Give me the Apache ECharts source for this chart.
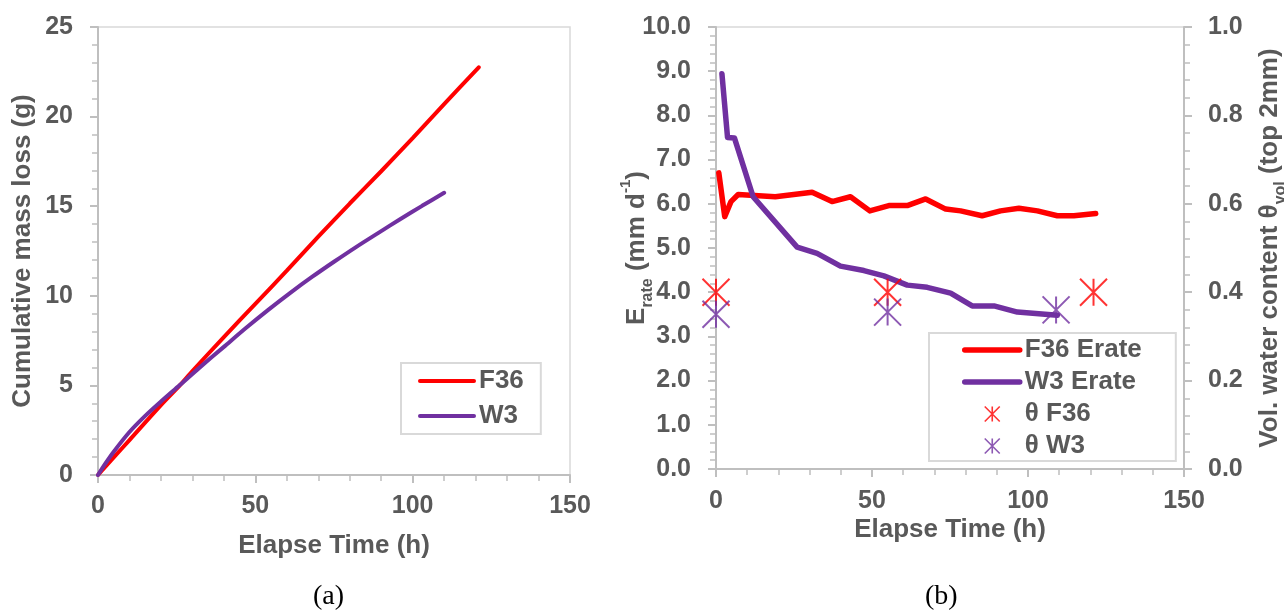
<!DOCTYPE html>
<html>
<head>
<meta charset="utf-8">
<script src="https://cdn.jsdelivr.net/npm/echarts@6/dist/echarts.min.js"></script>
<style>
  html, body { margin: 0; padding: 0; background: #ffffff; }
  #chart { width: 1284px; height: 612px; }
</style>
</head>
<body>
<div id="chart"></div>
<script>
// (a) cumulative mass loss, grams, against elapsed hours
const massTimeF36 = [0, 2, 5, 10, 20, 26, 30, 40, 50, 60, 70, 80, 90, 100, 110, 121];
const massF36 = [0, 0.4, 0.98, 1.95, 3.9, 5.0, 5.8, 7.7, 9.55, 11.4, 13.3, 15.15, 16.95, 18.8, 20.7, 22.75];
const massTimeW3 = [0, 2, 5, 10, 15, 20, 26, 32, 40, 47, 54, 61, 68, 75, 82, 89, 96, 103, 110];
const massW3 = [0, 0.55, 1.3, 2.4, 3.3, 4.1, 5.02, 5.95, 7.15, 8.2, 9.2, 10.15, 11.05, 11.9, 12.72, 13.5, 14.27, 15.02, 15.75];

// (b) evaporation rate, mm per day
const erateTimeF36 = [0.9, 2.8, 4.8, 7.1, 19, 30.8, 37.2, 43.1, 49.3, 55.4, 61.3, 67.2, 73.6, 78.4, 85.3, 91.2, 97.1, 103, 109.4, 114.7, 121.7];
const erateF36 = [6.70, 5.71, 6.05, 6.21, 6.16, 6.26, 6.05, 6.16, 5.84, 5.96, 5.96, 6.11, 5.88, 5.84, 5.73, 5.84, 5.90, 5.84, 5.73, 5.73, 5.78];
const erateTimeW3 = [1.9, 3.7, 5.9, 11.9, 26.0, 32.4, 39.9, 47.4, 53.8, 61.3, 67.7, 75.2, 82.1, 89.1, 96.6, 109.4];
const erateW3 = [8.94, 7.50, 7.49, 6.16, 5.02, 4.88, 4.59, 4.49, 4.37, 4.16, 4.11, 3.98, 3.69, 3.69, 3.55, 3.48];

// (b) volumetric water content of the top 2 mm
const thetaTimeF36 = [0, 55, 121];
const thetaF36 = [0.40, 0.40, 0.40];
const thetaTimeW3 = [0, 55, 109];
const thetaW3 = [0.35, 0.355, 0.36];

const FONT = "'Liberation Sans', Arial, Helvetica, sans-serif";
const GREY = '#595959';
const AXIS = '#bfbfbf';
const BORDER = '#d9d9d9';
const RED = '#ff0000';
const PURPLE = '#7030a0';
// asterisk marker: an X crossed by a vertical stroke (stroked, not filled)
const STAR = 'path://M0,0L20,20M20,0L0,20M10,0L10,20';

const pairs = (xs, ys) => xs.map((x, i) => [x, ys[i]]);

const textBase = { color: GREY, fontFamily: FONT, fontWeight: 'bold' };

function valueAxis(extra, decimals, labelMargin) {
  return Object.assign({
    type: 'value',
    nameLocation: 'middle',
    nameMoveOverlap: false,
    axisLine: { show: true, onZero: false, lineStyle: { color: AXIS, width: 2 } },
    axisTick: { show: true, length: 8, lineStyle: { color: AXIS, width: 2 } },
    minorTick: { show: true, splitNumber: 5, length: 6, lineStyle: { color: AXIS, width: 1.5 } },
    splitLine: { show: false },
    axisLabel: Object.assign({}, textBase, {
      fontSize: 25, margin: labelMargin, showMinLabel: true, showMaxLabel: true,
      formatter: v => v.toFixed(decimals)
    }),
    nameTextStyle: Object.assign({}, textBase, { fontSize: 26 })
  }, extra);
}

const richBase = {
  m: Object.assign({}, textBase, { fontSize: 26, lineHeight: 38 }),
  s: Object.assign({}, textBase, { fontSize: 16, lineHeight: 17, verticalAlign: 'bottom' }),
  p: Object.assign({}, textBase, { fontSize: 15, lineHeight: 28, verticalAlign: 'top' })
};

// legend entries for the line series: line sample only, no marker dot
const lineEntry = (name, width) => ({ name: name, itemStyle: { opacity: 0 }, lineStyle: { width: width } });

const option = {
  animation: false,
  backgroundColor: '#ffffff',
  grid: [
    { left: 98, top: 27, width: 472, height: 448, show: true, borderColor: BORDER, borderWidth: 1.5,
      backgroundColor: 'transparent', containLabel: false, outerBoundsMode: 'none' },
    { left: 716, top: 27, width: 468, height: 442, show: true, borderColor: BORDER, borderWidth: 1.5,
      backgroundColor: 'transparent', containLabel: false, outerBoundsMode: 'none' }
  ],
  xAxis: [
    valueAxis({ gridIndex: 0, min: 0, max: 150, interval: 50, name: 'Elapse Time (h)', nameGap: 58 }, 0, 19),
    valueAxis({ gridIndex: 1, min: 0, max: 150, interval: 50, name: 'Elapse Time (h)', nameGap: 48 }, 0, 20)
  ],
  yAxis: [
    valueAxis({ gridIndex: 0, min: 0, max: 25, interval: 5, name: 'Cumulative mass loss (g)', nameGap: 62 }, 0, 25),
    valueAxis({
      gridIndex: 1, min: 0, max: 10, interval: 1, nameGap: 60,
      name: '{m|E}{s|rate}{m| (mm d}{p|-1}{m|)}',
      nameTextStyle: { rich: richBase }
    }, 1, 25),
    valueAxis({
      gridIndex: 1, position: 'right', min: 0, max: 1, interval: 0.2, nameGap: 67, alignTicks: false,
      name: '{m|Vol. water content θ}{s|vol}{m| (top 2mm)}',
      nameTextStyle: { rich: richBase }
    }, 1, 24)
  ],
  legend: [
    {
      orient: 'vertical', left: 401, top: 363, selectedMode: false,
      itemWidth: 54, itemHeight: 14, itemGap: 9, padding: [5, 17, 5, 17],
      borderColor: BORDER, borderWidth: 2, backgroundColor: '#ffffff',
      textStyle: Object.assign({}, textBase, { fontSize: 26 }),
      data: [lineEntry('F36', 4), lineEntry('W3', 4)]
    },
    {
      orient: 'vertical', left: 929, top: 333, selectedMode: false,
      itemWidth: 55, itemHeight: 15, itemGap: 6, padding: [4, 34, 2, 33],
      borderColor: BORDER, borderWidth: 2, backgroundColor: '#ffffff',
      textStyle: Object.assign({}, textBase, { fontSize: 26 }),
      data: [
        lineEntry('F36 Erate', 5.5), lineEntry('W3 Erate', 5.5),
        { name: 'θ F36', icon: STAR, itemStyle: { color: 'rgba(0,0,0,0)', borderColor: RED, borderWidth: 1.6 } },
        { name: 'θ W3', icon: STAR, itemStyle: { color: 'rgba(0,0,0,0)', borderColor: PURPLE, borderWidth: 1.6 } }
      ]
    }
  ],
  graphic: [
    { type: 'text', left: 330 - 17, top: 583, style: { text: '(a)', font: "28px 'Liberation Serif', 'Times New Roman', serif", fill: '#000000' } },
    { type: 'text', left: 942 - 17, top: 583, style: { text: '(b)', font: "28px 'Liberation Serif', 'Times New Roman', serif", fill: '#000000' } }
  ],
  series: [
    { name: 'F36', type: 'line', xAxisIndex: 0, yAxisIndex: 0, data: pairs(massTimeF36, massF36),
      symbol: 'none', smooth: 0.3, color: RED, lineStyle: { color: RED, width: 4, cap: 'round' } },
    { name: 'W3', type: 'line', xAxisIndex: 0, yAxisIndex: 0, data: pairs(massTimeW3, massW3),
      symbol: 'none', smooth: 0.3, color: PURPLE, lineStyle: { color: PURPLE, width: 4, cap: 'round' } },
    { name: 'F36 Erate', type: 'line', xAxisIndex: 1, yAxisIndex: 1, data: pairs(erateTimeF36, erateF36),
      symbol: 'none', color: RED, lineStyle: { color: RED, width: 5.5, cap: 'round', join: 'round' } },
    { name: 'W3 Erate', type: 'line', xAxisIndex: 1, yAxisIndex: 1, data: pairs(erateTimeW3, erateW3),
      symbol: 'none', color: PURPLE, lineStyle: { color: PURPLE, width: 5.5, cap: 'round', join: 'round' } },
    { name: 'θ F36', type: 'scatter', xAxisIndex: 1, yAxisIndex: 2, data: pairs(thetaTimeF36, thetaF36),
      symbol: STAR, symbolSize: 27, symbolKeepAspect: true, clip: false, z: 3,
      itemStyle: { color: 'rgba(0,0,0,0)', borderColor: RED, borderWidth: 2 } },
    { name: 'θ W3', type: 'scatter', xAxisIndex: 1, yAxisIndex: 2, data: pairs(thetaTimeW3, thetaW3),
      symbol: STAR, symbolSize: 27, symbolKeepAspect: true, clip: false, z: 3,
      itemStyle: { color: 'rgba(0,0,0,0)', borderColor: PURPLE, borderWidth: 2 } }
  ]
};

const chart = echarts.init(document.getElementById('chart'), null, { renderer: 'canvas' });
chart.setOption(option);
</script>
</body>
</html>
